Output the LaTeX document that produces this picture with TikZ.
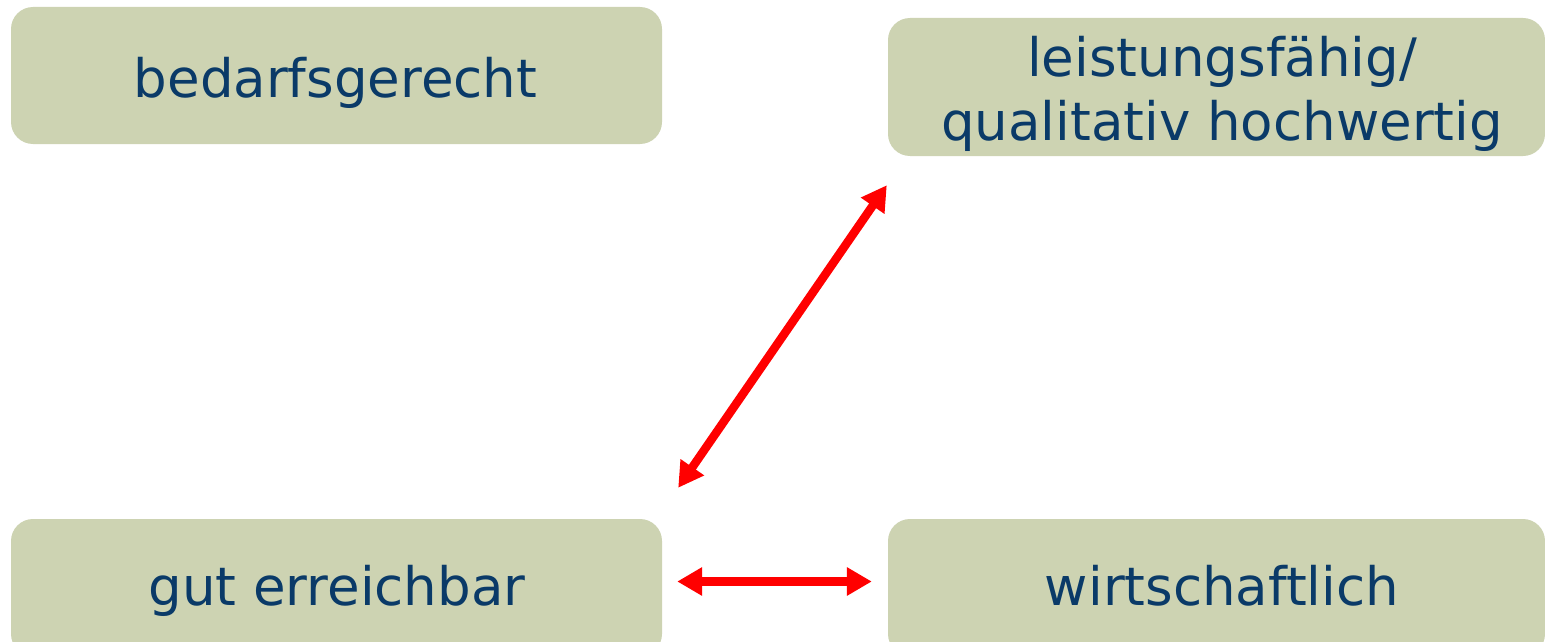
\documentclass[tikz,border=0pt]{standalone}
\usepackage{fontspec}
\setmainfont{DejaVu Sans}
\usetikzlibrary{arrows.meta}
\definecolor{boxfill}{HTML}{CDD3B2}
\definecolor{txtblue}{HTML}{0A3A68}
\definecolor{arrred}{HTML}{FF0000}
\begin{document}
\begin{tikzpicture}[x=1pt,y=-1pt,
  goalbox/.style={fill=boxfill, draw=none, rounded corners=22pt, inner sep=0pt},
  goaltext/.style={text=txtblue, font=\fontsize{53}{63}\selectfont, inner sep=0pt, anchor=base},
  link/.style={draw=arrred, line width=8.5pt,
    {Triangle[length=25pt,width=27pt]}-{Triangle[length=25pt,width=27pt]}}]
\useasboundingbox (0,0) rectangle (1545,642);
\clip (0,0) rectangle (1545,642);
\node[goalbox, minimum width=651pt, minimum height=137pt] (tl) at (336.5,75.5) {};
\node[goalbox, minimum width=657pt, minimum height=138pt] (tr) at (1216.5,87) {};
\node[goalbox, minimum width=651pt, minimum height=137pt] (bl) at (336.5,587.5) {};
\node[goalbox, minimum width=657pt, minimum height=137pt] (br) at (1216.5,587.5) {};
\node[goaltext] (tltext) at (335.5,97) {bedarfsgerecht};
\node[goaltext] (trtext1) at (1222,77) {leistungsfähig/};
\node[goaltext] (trtext2) at (1222,140) {qualitativ hochwertig};
\node[goaltext] (bltext) at (337,605) {gut erreichbar};
\node[goaltext] (brtext) at (1222,605) {wirtschaftlich};
\coordinate (d1) at ([shift={(16,-31)}]bl.north east);
\coordinate (d2) at ([shift={(-1,29)}]tr.south west);
\coordinate (h1) at ([xshift=15pt]bl.east |- 0,581.5);
\coordinate (h2) at ([xshift=-16pt]br.west |- 0,581.5);
\draw[link] (d1) -- (d2);
\draw[link] (h1) -- (h2);
\end{tikzpicture}
\end{document}
